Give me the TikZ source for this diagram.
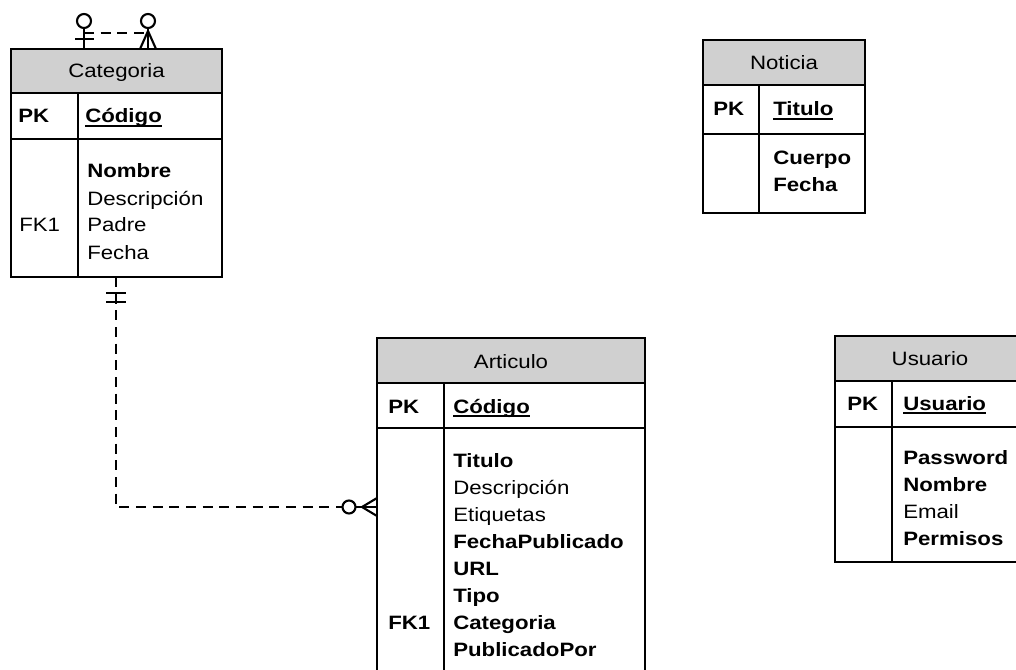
\documentclass[tikz,border=0pt]{standalone}
\usepackage{fontspec}
\setmainfont{Liberation Sans}[FakeStretch=1.15]
\definecolor{headgray}{RGB}{208,208,208}
\newcommand{\erfont}{\fontsize{14.5}{20}\selectfont}
% bold primary key, underlined just under the baseline
\newcommand{\pkname}[1]{\setbox0=\hbox{\bfseries #1}\rlap{\rule[-2.8pt]{\wd0}{1.3pt}}\box0}

\begin{document}
\begin{tikzpicture}[
      x=0.75pt, y=-0.75pt,
      tabbox/.style={draw, line width=1.3pt},
      tabhead/.style={tabbox, fill=headgray},
      tabtitle/.style={anchor=base, font=\erfont, inner sep=0pt},
      keycol/.style={anchor=base west, font=\erfont\bfseries, inner sep=0pt},
      field/.style={anchor=base west, font=\erfont, inner sep=0pt},
      rel/.style={line width=1.6pt, dash pattern=on 7.5pt off 5pt},
      endline/.style={line width=1.6pt}
    ]
    \useasboundingbox (0,0) rectangle (1016,670);
    \clip (0,0) rectangle (1016,670);

    % ---- Categoria ----
    \draw[tabhead] (11,49) rectangle (222,93);
    \draw[tabbox] (11,93) rectangle (222,139);
    \draw[tabbox] (11,139) rectangle (222,277);
    \draw[tabbox] (78,93) -- (78,277);
    \node[tabtitle] (cat-t) at (116.5,78) {Categoria};
    \node[keycol] (cat-pk) at (18,123) {PK};
    \node[field] (cat-id) at (85,123) {\pkname{Código}};
    \foreach \i/\f in {0/\textbf{Nombre}, 1/Descripción, 2/Padre, 3/Fecha} {
      \node[field] (cat-f\i) at (87,{178+27*\i}) {\f};
    }
    \node[field] (cat-fk) at (19,232) {FK1};
    \coordinate (cat-l) at (84,49);
    \coordinate (cat-r) at (148,49);
    \coordinate (cat-s) at (116,277);

    % ---- Noticia ----
    \draw[tabhead] (703,40) rectangle (865,85);
    \draw[tabbox] (703,85) rectangle (865,134);
    \draw[tabbox] (703,134) rectangle (865,213);
    \draw[tabbox] (759,85) -- (759,213);
    \node[tabtitle] (not-t) at (784,70) {Noticia};
    \node[keycol] (not-pk) at (713,116) {PK};
    \node[field] (not-id) at (773,116) {\pkname{Titulo}};
    \foreach \i/\f in {0/Cuerpo, 1/Fecha} {
      \node[field, font=\erfont\bfseries] (not-f\i) at (773,{165+27*\i}) {\f};
    }

    % ---- Articulo ----
    \draw[tabhead] (377,338) rectangle (645,383);
    \draw[tabbox] (377,383) rectangle (645,428);
    \draw[tabbox] (377,428) rectangle (645,700);
    \draw[tabbox] (444,383) -- (444,700);
    \node[tabtitle] (art-t) at (511,368) {Articulo};
    \node[keycol] (art-pk) at (388,413) {PK};
    \node[field] (art-id) at (453,413) {\pkname{Código}};
    \foreach \i/\f in {0/\textbf{Titulo}, 1/Descripción, 2/Etiquetas, 3/\textbf{FechaPublicado},
                       4/\textbf{URL}, 5/\textbf{Tipo}, 6/\textbf{Categoria}, 7/\textbf{PublicadoPor}} {
      \node[field] (art-f\i) at (453,{467+27*\i}) {\f};
    }
    \node[keycol] (art-fk) at (388,629) {FK1};
    \coordinate (art-w) at (377,507);

    % ---- Usuario (runs off the right edge) ----
    \draw[tabhead] (835,336) rectangle (1025,381);
    \draw[tabbox] (835,381) rectangle (1025,427);
    \draw[tabbox] (835,427) rectangle (1025,562);
    \draw[tabbox] (892,381) -- (892,562);
    \node[tabtitle] (usr-t) at (930,365) {Usuario};
    \node[keycol] (usr-pk) at (847,410) {PK};
    \node[field] (usr-id) at (903,410) {\pkname{Usuario}};
    \foreach \i/\f in {0/\textbf{Password}, 1/\textbf{Nombre}, 2/Email, 3/\textbf{Permisos}} {
      \node[field] (usr-f\i) at (903,{464+27*\i}) {\f};
    }

    % ---- Categoria -> Categoria (Padre) ----
    \draw[rel] (cat-l) ++(0,-16) -- ++(64,0);
    \draw[endline] (cat-l) -- ++(0,-21);
    \draw[endline] (cat-l) ++(-9,-10) -- ++(19,0);
    \draw[endline] (cat-l) ++(0,-28) circle[radius=7];
    \draw[endline] (cat-r) -- ++(0,-21);
    \draw[endline] (cat-r) ++(-8,0) -- ++(8,-18) -- ++(8,18);
    \draw[endline] (cat-r) ++(0,-28) circle[radius=7];

    % ---- Categoria -> Articulo ----
    \draw[rel] (cat-s) |- (art-w);
    \draw[endline] (cat-s) ++(-10,16) -- ++(20,0);
    \draw[endline] (cat-s) ++(-10,25) -- ++(20,0);
    \draw[endline] (cat-s) ++(0,16) -- ++(0,9);
    \draw[endline, fill=white] (art-w) ++(-28,0) circle[radius=6.5];
    \draw[endline] (art-w) ++(-21.5,0) -- (art-w);
    \draw[endline] (art-w) ++(0,-9) -- ++(-15,9) -- ++(15,9);

\end{tikzpicture}
\end{document}
